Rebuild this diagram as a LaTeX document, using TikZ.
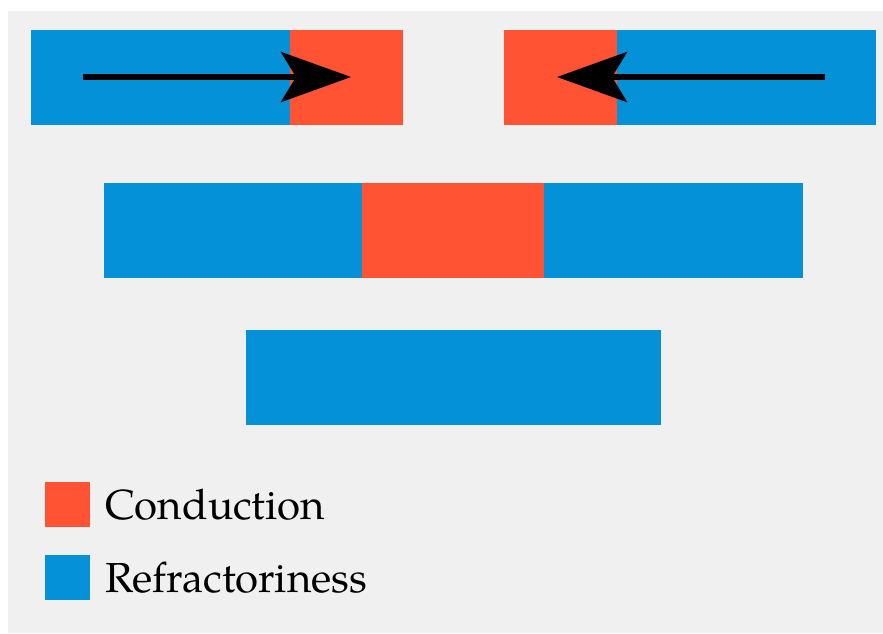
\documentclass[tikz,border=0pt]{standalone}
\usepackage{fontspec}
\setmainfont{TeX Gyre Pagella}
\usetikzlibrary{arrows.meta}
\definecolor{conduction}{RGB}{255,83,51}
\definecolor{refractory}{RGB}{5,145,215}
\definecolor{backdrop}{RGB}{240,240,240}
\tikzset{
	wave/.cd,
	bar/.style = {
		anchor = north west,
		inner sep = 0pt,
		outer sep = 0pt,
		minimum height = 95pt
	},
	front/.style = {
		line width = 5.5pt,
		-{Stealth[length = 70pt 0, width = 50pt 0, inset = 15pt 0]}
	},
}

\begin{document}
\begin{tikzpicture}[
		x = 1pt, y = -1pt,
		legendbox/.style = {
			anchor = north west,
			inner sep = 0pt,
			minimum size = 45pt
		},
		legendtext/.style = {
			anchor = base west,
			inner sep = 0pt,
			font = \fontsize{42}{46}\selectfont
		}]
		\fill[white] (0, 0) rectangle (883, 633);
		\fill[backdrop] (8, 11) rectangle (883, 633);
		\useasboundingbox (0, 0) rectangle (883, 633);
		\begin{scope}
			\node[wave/bar, fill = refractory, minimum width = 259pt] (left-r) at (31, 30) {};
			\node[wave/bar, fill = conduction, minimum width = 113pt] (left-c) at (290, 30) {};
			\node[wave/bar, fill = conduction, minimum width = 113pt] (right-c) at (504, 30) {};
			\node[wave/bar, fill = refractory, minimum width = 259pt] (right-r) at (617, 30) {};
			\coordinate (left-tail) at (83, 77);
			\coordinate (left-tip) at (351, 77);
			\coordinate (right-tail) at (825, 77);
			\coordinate (right-tip) at (557, 77);
			\draw[wave/front] (left-tail) -- (left-tip);
			\draw[wave/front] (right-tail) -- (right-tip);
		\end{scope}
		\begin{scope}
			\node[wave/bar, fill = refractory, minimum width = 258pt] (mid-left-r) at (104, 183) {};
			\node[wave/bar, fill = conduction, minimum width = 182pt] (mid-c) at (362, 183) {};
			\node[wave/bar, fill = refractory, minimum width = 259pt] (mid-right-r) at (544, 183) {};
		\end{scope}
		\node[wave/bar, fill = refractory, minimum width = 415pt] (low-r) at (246, 330) {};
		\node[legendbox, fill = conduction] (key-c) at (45, 482) {};
		\node[legendbox, fill = refractory] (key-r) at (45, 555) {};
		\node[legendtext] (label-c) at (105, 519) {Conduction};
		\node[legendtext] (label-r) at (105, 592) {Refractoriness};
	\end{tikzpicture}
\end{document}
